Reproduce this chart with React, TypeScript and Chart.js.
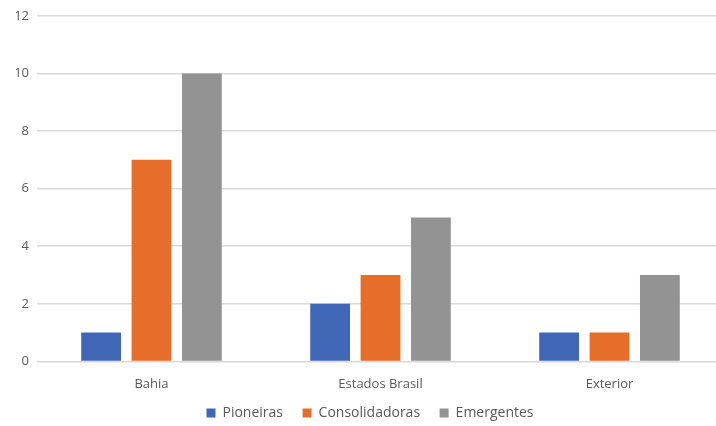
import React, { useEffect, useRef } from "react";
import { Chart, registerables } from "chart.js";

Chart.register(...registerables);

const categories = ["Bahia", "Estados Brasil", "Exterior"];
const seriesNames = ["Pioneiras", "Consolidadoras", "Emergentes"];
const pioneiras = [1, 2, 1];
const consolidadoras = [7, 3, 1];
const emergentes = [10, 5, 3];
const yTicks = [0, 2, 4, 6, 8, 10, 12];
const colors = ["#3F67B5", "#E66D2A", "#939393"];

export default function App() {
  const ref = useRef<HTMLCanvasElement | null>(null);
  useEffect(() => {
    if (!ref.current) return;
    const values = [pioneiras, consolidadoras, emergentes];
    const chart = new Chart(ref.current, {
      type: "bar",
      data: {
        labels: categories,
        datasets: seriesNames.map((name, i) => ({
          label: name,
          data: values[i],
          backgroundColor: colors[i],
          categoryPercentage: 0.66,
          barPercentage: 0.79,
        })),
      },
      options: {
        animation: false,
        responsive: true,
        maintainAspectRatio: false,
        layout: { padding: { top: 10, left: 16, right: 0, bottom: -4 } },
        plugins: {
          tooltip: { enabled: false },
          legend: {
            position: "bottom",
            labels: {
              boxWidth: 9,
              boxHeight: 9,
              padding: 5,
              color: "#595959",
              font: { family: "Open Sans", size: 14 },
              generateLabels: (c: any) => {
                const items = Chart.defaults.plugins.legend.labels.generateLabels(c);
                return items.map((it: any, i: number) => ({
                  ...it,
                  text: i < items.length - 1 ? it.text + "    " : it.text,
                }));
              },
            },
          },
        },
        scales: {
          x: {
            grid: { display: false },
            border: { display: false },
            afterFit: (axis: any) => {
              axis.height += 2;
            },
            ticks: {
              color: "#595959",
              font: { family: "Open Sans", size: 13 },
              padding: 7,
            },
          },
          y: {
            min: 0,
            max: 12,
            afterBuildTicks: (axis: any) => {
              axis.ticks = yTicks.map((v) => ({ value: v }));
            },
            afterFit: (axis: any) => {
              axis.width = 21;
            },
            grid: { color: "#d9d9d9", lineWidth: 1.5, drawTicks: false },
            border: { display: false },
            ticks: {
              color: "#595959",
              font: { family: "Open Sans", size: 13 },
              padding: 8,
            },
          },
        },
      },
    });
    return () => chart.destroy();
  }, []);
  return (
    <div
      style={{
        position: "fixed",
        left: 0,
        top: 0,
        width: 716,
        height: 426,
        overflow: "hidden",
        background: "#fff",
      }}
    >
      <div style={{ position: "relative", width: 724, height: 426 }}>
        <canvas ref={ref} />
      </div>
    </div>
  );
}
